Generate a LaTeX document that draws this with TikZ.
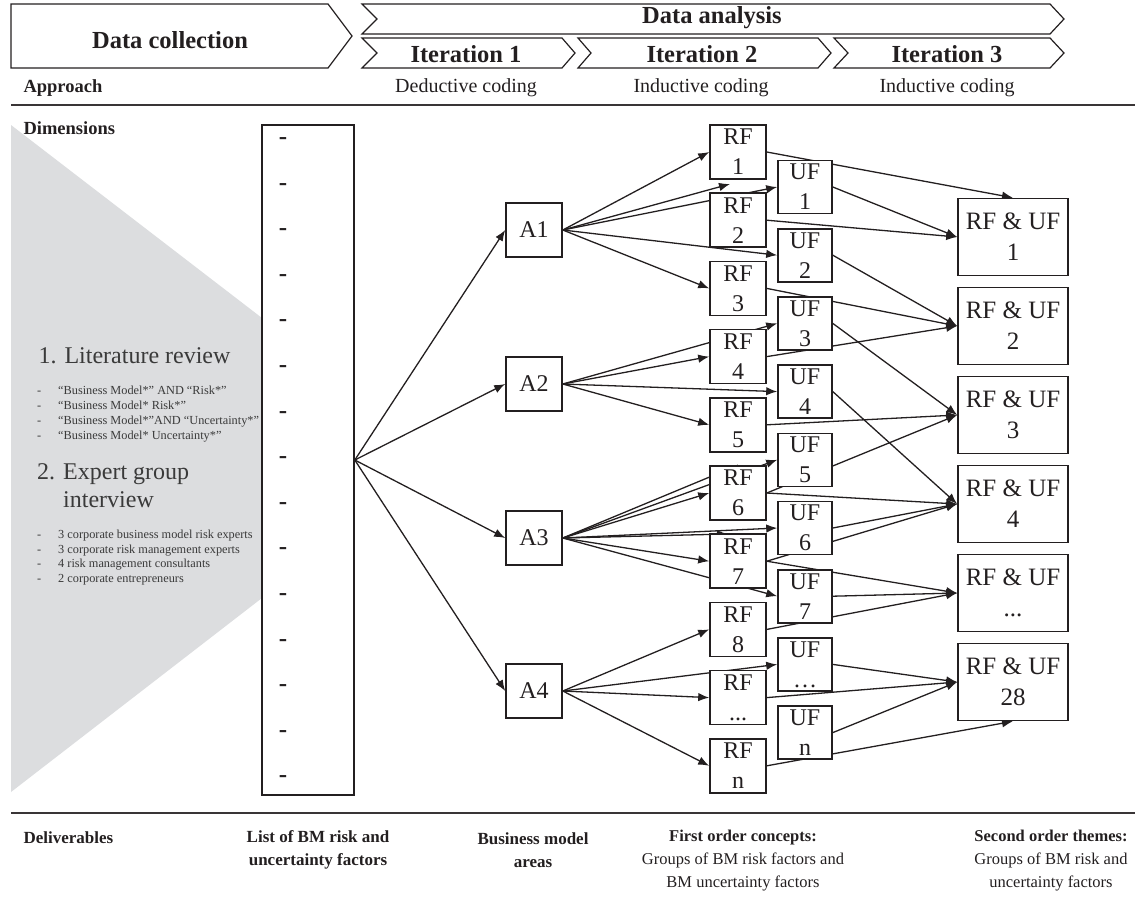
\documentclass[tikz,border=0pt]{standalone}
\usepackage{fontspec}
\setmainfont{Liberation Serif}
\usetikzlibrary{arrows.meta}

\definecolor{ink}{HTML}{231F20}
\definecolor{panelgrey}{HTML}{DCDDDF}
\definecolor{greytext}{HTML}{3A3A3A}

\pgfdeclarelayer{back}
\pgfdeclarelayer{links}
\pgfsetlayers{back,links,main}

\tikzset{
  chev/.style={draw=ink,line width=1.2pt},
  head/.style={font=\fontsize{24.5}{28}\selectfont\bfseries,text=ink},
  lbl/.style={font=\fontsize{17}{23.5}\selectfont\bfseries,text=ink},
  rowlbl/.style={font=\fontsize{18.5}{22}\selectfont\bfseries,text=ink},
  coding/.style={font=\fontsize{20}{24}\selectfont,text=ink},
  bottom/.style={font=\fontsize{16.5}{23}\selectfont,text=ink,align=center},
  box/.style={draw=ink,line width=1.6pt,fill=white,inner sep=0pt,align=center,
    text=ink,font=\fontsize{24}{30}\selectfont},
  abox/.style={box,minimum width=56pt,minimum height=54pt},
  rfbox/.style={box,minimum width=56pt,minimum height=54pt},
  ufbox/.style={box,minimum width=54pt,minimum height=53pt},
  themebox/.style={box,minimum width=110pt,minimum height=77pt,font=\fontsize{25}{31}\selectfont},
  link/.style={draw=ink,line width=1.3pt},
}

\begin{document}
\begin{tikzpicture}[x=1pt,y=-1pt,node distance=68.2pt,>={Latex[length=11pt,width=8.5pt]}]
    \useasboundingbox (0,0) rectangle (1135,898);

    % header
    \draw[chev] (11,4) -- (328,4) -- (352,36) -- (328,68) -- (11,68) -- cycle;
    \draw[chev] (362,4) -- (1050,4) -- (1064,19) -- (1050,34) -- (362,34) -- (377,19) -- cycle;
    \draw[chev] (362,38) -- (562,38) -- (575,53) -- (562,68) -- (362,68) -- (377,53) -- cycle;
    \draw[chev] (578,38) -- (818,38) -- (831,53) -- (818,68) -- (578,68) -- (591,53) -- cycle;
    \draw[chev] (834,38) -- (1050,38) -- (1064,53) -- (1050,68) -- (834,68) -- (848,53) -- cycle;

    \node[head] (collect) at (170,40) {Data collection};
    \node[head] (analysis) at (712,18) {Data analysis};
    \node[head] (iter1) at (466,54) {Iteration 1};
    \node[head] (iter2) at (702,54) {Iteration 2};
    \node[head] (iter3) at (947,54) {Iteration 3};

    \node[rowlbl,anchor=west] (approach) at (20,88) {Approach};
    \node[coding] (code1) at (466,88) {Deductive coding};
    \node[coding] (code2) at (701,88) {Inductive coding};
    \node[coding] (code3) at (947,88) {Inductive coding};

    \draw[draw=ink!90,line width=2pt] (11,105) -- (1135,105);
    \draw[draw=ink!90,line width=2pt] (11,813) -- (1135,813);

    \node[rowlbl,anchor=west] (dims) at (20,128) {Dimensions};

    % data collection panel
    \begin{pgfonlayer}{back}
        \fill[panelgrey] (11,125) -- (262,318) -- (262,598) -- (11,792) -- cycle;
    \end{pgfonlayer}

    \node[anchor=west,text=greytext,font=\fontsize{24}{28}\selectfont] (litreview) at (35,356) {1. Literature review};
    \node[anchor=north west,text=greytext,align=left,inner sep=0pt,font=\fontsize{12.3}{15}\selectfont] (searches) at (37,386) {%
        \makebox[21pt][l]{-}“Business Model*” AND “Risk*”\\
        \makebox[21pt][l]{-}“Business Model* Risk*”\\
        \makebox[21pt][l]{-}“Business Model*”AND “Uncertainty*”\\
        \makebox[21pt][l]{-}“Business Model* Uncertainty*”};
    \node[anchor=north west,text=greytext,align=left,inner sep=0pt,font=\fontsize{24}{28}\selectfont] (expert) at (37,463) {2. Expert group\\\phantom{2. }interview};
    \node[anchor=north west,text=greytext,align=left,inner sep=0pt,font=\fontsize{12.3}{14.6}\selectfont] (experts) at (37,530) {%
        \makebox[21pt][l]{-}3 corporate business model risk experts\\
        \makebox[21pt][l]{-}3 corporate risk management experts\\
        \makebox[21pt][l]{-}4 risk management consultants\\
        \makebox[21pt][l]{-}2 corporate entrepreneurs};

    \node[box,minimum width=92pt,minimum height=670pt] (list) at (308,460) {};
    \foreach \k in {0,...,14}
        \node[text=ink,font=\fontsize{25}{25}\selectfont\bfseries] (dash\k) at (283,{141+45.6*\k}) {-};

    % business model areas
    \node[abox] (A1) at (534,230) {A1};
    \node[abox] (A2) at (534,384) {A2};
    \node[abox] (A3) at (534,538) {A3};
    \node[abox] (A4) at (534,691) {A4};

    % risk factors
    \node[rfbox] (RF1) at (738,152) {RF\\1};
    \node[rfbox] (RF2) [below of=RF1] {RF\\2};
    \node[rfbox] (RF3) [below of=RF2] {RF\\3};
    \node[rfbox] (RF4) [below of=RF3] {RF\\4};
    \node[rfbox] (RF5) [below of=RF4] {RF\\5};
    \node[rfbox] (RF6) [below of=RF5] {RF\\6};
    \node[rfbox] (RF7) [below of=RF6] {RF\\7};
    \node[rfbox] (RF8) [below of=RF7] {RF\\8};
    \node[rfbox] (RF9) [below of=RF8] {RF\\...};
    \node[rfbox] (RF10) [below of=RF9] {RF\\n};

    % uncertainty factors
    \node[ufbox] (UF1) at (805,187) {UF\\1};
    \node[ufbox] (UF2) [below of=UF1] {UF\\2};
    \node[ufbox] (UF3) [below of=UF2] {UF\\3};
    \node[ufbox] (UF4) [below of=UF3] {UF\\4};
    \node[ufbox] (UF5) [below of=UF4] {UF\\5};
    \node[ufbox] (UF6) [below of=UF5] {UF\\6};
    \node[ufbox] (UF7) [below of=UF6] {UF\\7};
    \node[ufbox] (UF8) [below of=UF7] {UF\\…};
    \node[ufbox] (UF9) [below of=UF8] {UF\\n};

    % themes
    \node[themebox] (T1) at (1013,237) {RF \& UF\\1};
    \node[themebox] (T2) [below of=T1,node distance=89pt] {RF \& UF\\2};
    \node[themebox] (T3) [below of=T2,node distance=89pt] {RF \& UF\\3};
    \node[themebox] (T4) [below of=T3,node distance=89pt] {RF \& UF\\4};
    \node[themebox] (T5) [below of=T4,node distance=89pt] {RF \& UF\\...};
    \node[themebox] (T6) [below of=T5,node distance=89pt] {RF \& UF\\28};

    \coordinate (stubA) at (730,184);
    \coordinate (stubB) at (728,534);

    \begin{pgfonlayer}{links}
    \draw[link,->] (list.east) -- (A1.west);
    \draw[link,->] (list.east) -- (A2.west);
    \draw[link,->] (list.east) -- (A3.west);
    \draw[link,->] (list.east) -- (A4.west);

    \draw[link,->] (A1.east) -- (RF1.west);
    \draw[link,->] (A1.east) -- (stubA);
    \draw[link,->] (A1.east) -- (UF1.west);
    \draw[link,->] (A1.east) -- (UF2.west);
    \draw[link,->] (A1.east) -- (RF3.west);

    \draw[link,->] (A2.east) -- (UF3.west);
    \draw[link,->] (A2.east) -- (RF4.west);
    \draw[link,->] (A2.east) -- (UF4.west);
    \draw[link,->] (A2.east) -- (RF5.west);

    \draw[link,->] (A3.east) -- (UF5.west);
    \draw[link] (A3.east) -- (RF6.north);
    \draw[link,->] (A3.east) -- (RF6.west);
    \draw[link,->] (A3.east) -- (UF6.west);
    \draw[link,->] (A3.east) -- (stubB);
    \draw[link,->] (A3.east) -- (RF7.west);
    \draw[link,->] (A3.east) -- (UF7.west);

    \draw[link,->] (A4.east) -- (RF8.west);
    \draw[link,->] (A4.east) -- (UF8.west);
    \draw[link,->] (A4.east) -- (RF9.west);
    \draw[link,->] (A4.east) -- (RF10.west);

    \draw[link,->] (RF1.east) -- (T1.north);
    \draw[link,->] (UF1.east) -- (T1.west);
    \draw[link,->] (RF2.east) -- (T1.west);
    \draw[link,->] (UF2.east) -- (T2.west);
    \draw[link,->] (RF3.east) -- (T2.west);
    \draw[link,->] (RF4.east) -- (T2.west);
    \draw[link,->] (UF3.east) -- (T3.west);
    \draw[link,->] (RF5.east) -- (T3.west);
    \draw[link,->] (RF6.east) -- (T3.west);
    \draw[link,->] (UF4.east) -- (T4.west);
    \draw[link,->] (RF6.east) -- (T4.west);
    \draw[link,->] (UF6.east) -- (T4.west);
    \draw[link,->] (RF7.east) -- (T4.west);
    \draw[link,->] (RF7.east) -- (T5.west);
    \draw[link,->] (UF7.east) -- (T5.west);
    \draw[link,->] (RF8.east) -- (T5.west);
    \draw[link,->] (UF8.east) -- (T6.west);
    \draw[link,->] (RF9.east) -- (T6.west);
    \draw[link,->] (UF9.east) -- (T6.west);
    \draw[link,->] (RF10.east) -- (T6.south);
    \end{pgfonlayer}

    % deliverables
    \node[lbl,anchor=west] (deliv) at (20,838) {Deliverables};
    \node[lbl,align=center] (listlbl) at (318,850) {List of BM risk and\\uncertainty factors};
    \node[lbl,align=center] (arealbl) at (533,850) {Business model\\areas};
    \node[bottom] (firstlbl) at (743,861) {\textbf{First order concepts:}\\Groups of BM risk factors and\\BM uncertainty factors};
    \node[bottom] (secondlbl) at (1051,861) {\textbf{Second order themes:}\\Groups of BM risk and\\uncertainty factors};
\end{tikzpicture}
\end{document}
